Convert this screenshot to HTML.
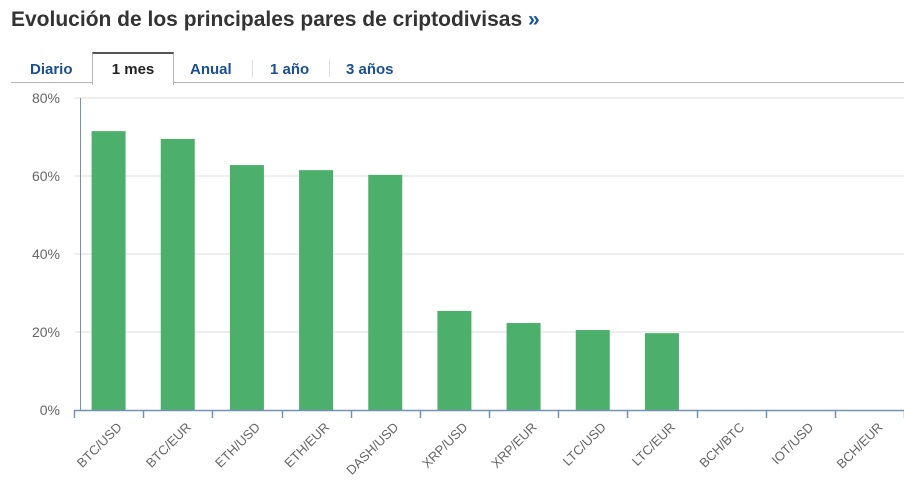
<!DOCTYPE html>
<html><head><meta charset="utf-8"><style>
body{margin:0;width:904px;height:496px;background:#fff;font-family:"Liberation Sans",Arial,sans-serif;overflow:hidden;position:relative}
#title{position:absolute;left:11px;top:8px;font-size:21px;font-weight:bold;color:#333}
#title span{color:#1a56a0}
.tab{position:absolute;top:52px;height:30px;line-height:35px;font-size:15px;font-weight:bold;color:#1a4f91}
#tabline{position:absolute;left:11px;top:82px;width:893px;height:1px;background:#b5b5b5}
.sep{position:absolute;top:60px;width:1px;height:17px;background:#ddd}
</style></head><body>
<div id="title">Evolución de los principales pares de criptodivisas <span>»</span></div>
<div id="tabline"></div>
<div class="tab" style="left:30px">Diario</div>
<div class="tab" style="left:92px;width:80px;text-align:center;color:#222;background:#fff;border:1px solid #b5b5b5;border-top:2px solid #555;border-bottom:none;height:31px;line-height:31px">1 mes</div>
<div class="tab" style="left:190px">Anual</div>
<div class="sep" style="left:252px"></div>
<div class="tab" style="left:270px">1 año</div>
<div class="sep" style="left:329px"></div>
<div class="tab" style="left:346px">3 años</div>
<svg id="chart" width="904" height="496" style="position:absolute;left:0;top:0"></svg>
<script>
const categories=["BTC/USD","BTC/EUR","ETH/USD","ETH/EUR","DASH/USD","XRP/USD","XRP/EUR","LTC/USD","LTC/EUR","BCH/BTC","IOT/USD","BCH/EUR"];
const values=[71.5,69.5,62.8,61.5,60.3,25.4,22.3,20.5,19.7,0,0,0];
const yTicks=[0,20,40,60,80];
const tickLabels=["0%","20%","40%","60%","80%"];
const svg=document.getElementById('chart');const NS="http://www.w3.org/2000/svg";
const x0=74,x1=904,yTop=98,yBot=410,yMax=80;
const bw=(x1-x0)/categories.length;
const y=v=>yBot-(v/yMax)*(yBot-yTop);
const xc=i=>x0+bw*(i+0.5);
function mk(t,a){const e=document.createElementNS(NS,t);for(const k in a)e.setAttribute(k,a[k]);svg.appendChild(e);return e;}
yTicks.forEach((t,i)=>{
 if(t>0){const g=mk('line',{x1:75,x2:904,y1:y(t),y2:y(t),stroke:'#dcdcdc','stroke-width':1});
 
 }
 const l=mk('text',{x:60,y:y(t)+5,'text-anchor':'end','font-size':14,fill:'#666'});l.textContent=tickLabels[i];
 
 
});
const ya=mk('line',{x1:80.5,x2:80.5,y1:yTop,y2:yBot,stroke:'#7391b5','stroke-width':1});


values.forEach((v,i)=>{
 if(v>0){const r=mk('rect',{x:xc(i)-17,y:y(v),width:34,height:yBot-y(v),fill:'#4caf6c'});
 
 }
});
const xa=mk('line',{x1:x0,x2:x1,y1:yBot+0.5,y2:yBot+0.5,stroke:'#7391b5','stroke-width':1.5});


for(let i=0;i<=categories.length;i++){const tx=Math.round(x0+bw*i)+0.5;
 const tk=mk('line',{x1:tx,x2:tx,y1:yBot,y2:yBot+8,stroke:'#7391b5','stroke-width':1.5});
 
 }
categories.forEach((c,i)=>{
 const cx=xc(i)+14,cy=yBot+18;
 const t=mk('text',{x:cx,y:cy,'text-anchor':'end','font-size':13,fill:'#666',transform:`rotate(-45 ${cx} ${cy})`});
 t.textContent=c;
 
 
});
</script>
</body></html>
